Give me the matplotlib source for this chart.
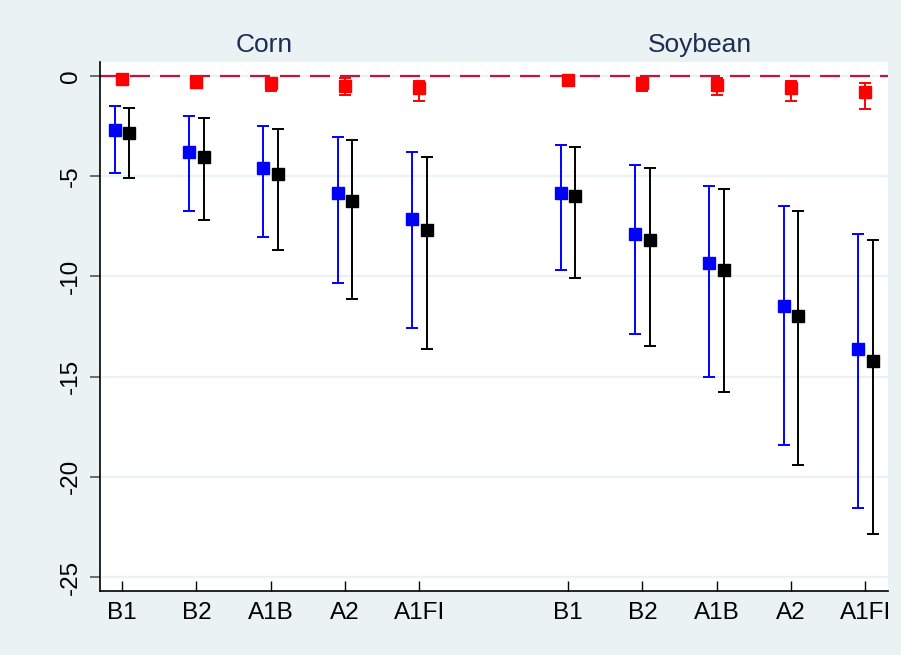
import numpy as np
import matplotlib
matplotlib.use('Agg')
import matplotlib.pyplot as plt
from matplotlib.transforms import blended_transform_factory

plt.rcParams['font.family'] = ['Liberation Sans', 'DejaVu Sans']

# scenarios and their x positions (two groups with a gap)
scenarios = ['B1', 'B2', 'A1B', 'A2', 'A1FI']
corn_x = [1, 2, 3, 4, 5]
soy_x = [7, 8, 9, 10, 11]

# Corn estimates (point, lower, upper)
corn_blue = [-2.69, -3.81, -4.60, -5.85, -7.15]
corn_blue_lo = [-4.82, -6.72, -8.05, -10.31, -12.55]
corn_blue_hi = [-1.50, -2.00, -2.49, -3.04, -3.79]
corn_black = [-2.83, -4.02, -4.89, -6.25, -7.68]
corn_black_lo = [-5.10, -7.21, -8.68, -11.14, -13.60]
corn_black_hi = [-1.58, -2.09, -2.63, -3.21, -4.02]
corn_red = [-0.16, -0.30, -0.37, -0.48, -0.61]
corn_red_lo = [-0.30, -0.50, -0.73, -0.96, -1.23]
corn_red_hi = [-0.05, -0.10, -0.10, -0.12, -0.27]

# Soybean estimates
soy_blue = [-5.82, -7.88, -9.31, -11.46, -13.60]
soy_blue_lo = [-9.68, -12.88, -15.00, -18.39, -21.58]
soy_blue_hi = [-3.46, -4.45, -5.47, -6.48, -7.88]
soy_black = [-5.99, -8.18, -9.68, -11.97, -14.23]
soy_black_lo = [-10.09, -13.47, -15.75, -19.40, -22.88]
soy_black_hi = [-3.56, -4.57, -5.62, -6.72, -8.18]
soy_red = [-0.20, -0.33, -0.43, -0.60, -0.80]
soy_red_lo = [-0.40, -0.73, -0.93, -1.26, -1.63]
soy_red_hi = [-0.05, -0.08, -0.08, -0.27, -0.33]

y_ticks = [0, -5, -10, -15, -20, -25]
group_titles = ['Corn', 'Soybean']

bg = '#EAF2F3'
fig = plt.figure(figsize=(9.01, 6.55), dpi=100, facecolor=bg)
ax = fig.add_axes([100 / 901, 64 / 655, 788 / 901, 529 / 655])
ax.set_facecolor('white')

ax.set_xlim(0.704, 11.305)
ax.set_ylim(-25.7, 0.7)

for t in y_ticks:
    ax.axhline(t, color=bg, lw=1.6, zorder=0)
ax.axhline(0, color='#C8143C', lw=1.6, dashes=(9, 4.5), zorder=1)


def draw(xs, vals, lo, hi, color, offset, ms=8.5):
    x = np.array(xs) + offset
    v = np.array(vals)
    err = [v - np.array(lo), np.array(hi) - v]
    ax.errorbar(x, v, yerr=err, fmt='s', color=color, ecolor=color,
                ms=ms, elinewidth=1.4, capsize=4, capthick=1.4, zorder=3)


draw(corn_x, corn_blue, corn_blue_lo, corn_blue_hi, '#0000FF', -0.1)
draw(corn_x, corn_black, corn_black_lo, corn_black_hi, 'black', 0.1)
draw(corn_x, corn_red, corn_red_lo, corn_red_hi, '#FF0000', 0.0, ms=8)
draw(soy_x, soy_blue, soy_blue_lo, soy_blue_hi, '#0000FF', -0.1)
draw(soy_x, soy_black, soy_black_lo, soy_black_hi, 'black', 0.1)
draw(soy_x, soy_red, soy_red_lo, soy_red_hi, '#FF0000', 0.0, ms=8)

ax.set_xticks(corn_x + soy_x)
ax.set_xticklabels(scenarios + scenarios, fontsize=17.5)
ax.tick_params(axis='x', direction='in', length=7, width=1, pad=8)
ax.set_yticks(y_ticks)
ax.set_yticklabels([str(t) for t in y_ticks], fontsize=17.5, rotation=90,
                   va='center')
ax.tick_params(axis='y', direction='out', length=7, width=1.2,
               color='#555555', pad=6)

for s in ['top', 'right']:
    ax.spines[s].set_visible(False)
for s in ['left', 'bottom']:
    ax.spines[s].set_linewidth(1.2)

trans = blended_transform_factory(ax.transData, fig.transFigure)
ax.text(2.91, 1 - 45 / 655, group_titles[0], transform=trans, ha='center',
        va='center', fontsize=19, color='#1E2D53')
ax.text(8.77, 1 - 45 / 655, group_titles[1], transform=trans, ha='center',
        va='center', fontsize=19, color='#1E2D53')

fig.savefig('out.png', dpi=100, facecolor=bg)
